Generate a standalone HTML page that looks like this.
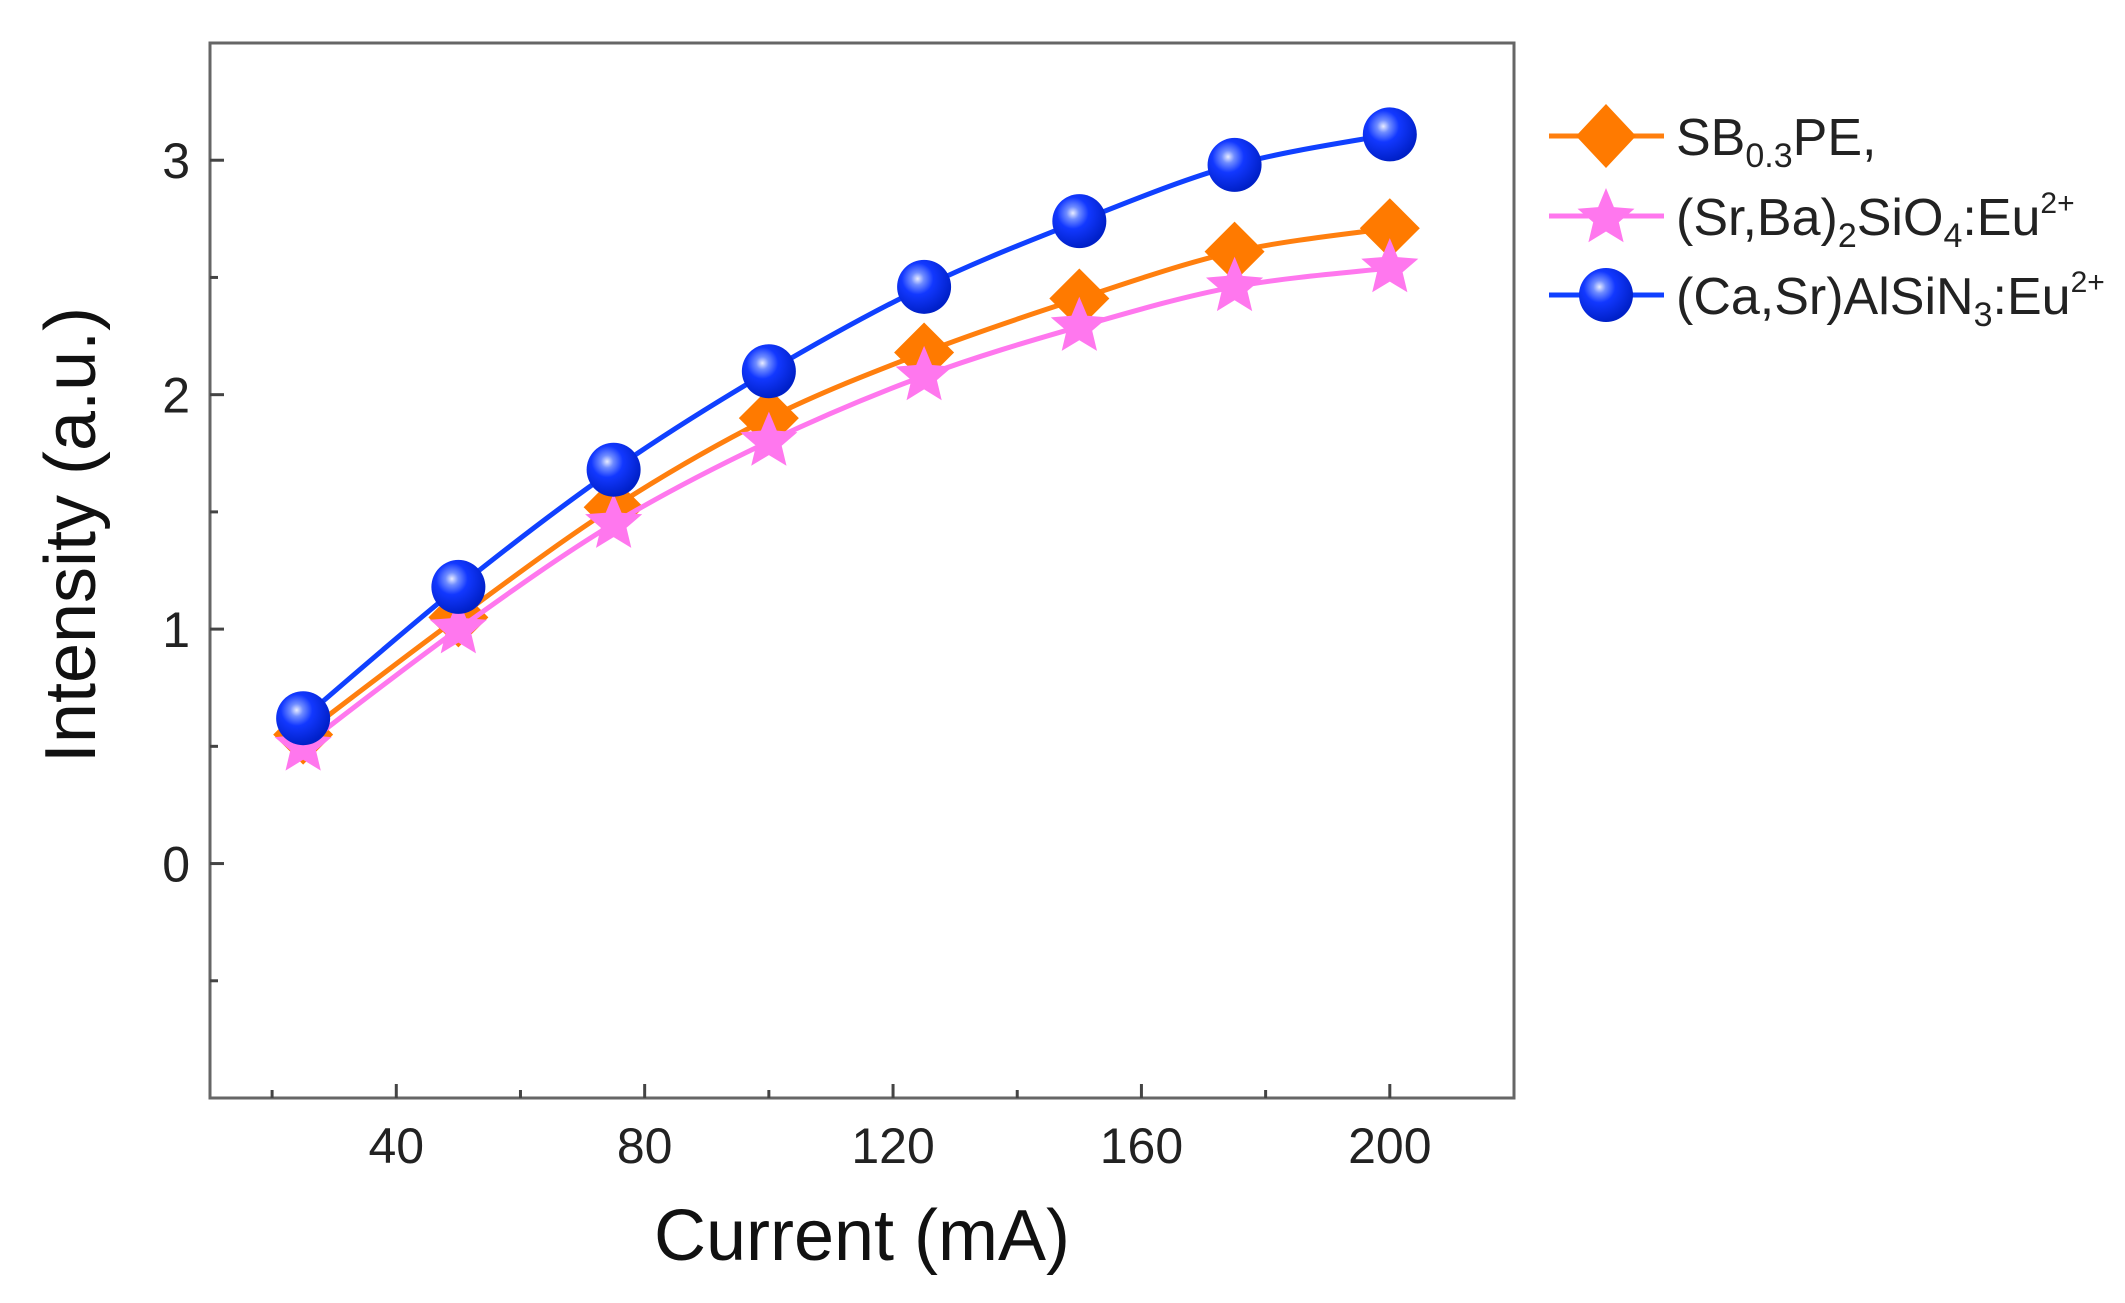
<!DOCTYPE html>
<html><head><meta charset="utf-8"><style>
html,body{margin:0;padding:0;background:#fff;}
svg{display:block;font-family:"Liberation Sans",Arial,sans-serif;}
</style></head><body>
<svg id="chart" width="2125" height="1303" viewBox="0 0 2125 1303">
<g id="axes"></g>
<g id="series"></g>
<g id="legend">
  <g>
    <line x1="1549" y1="136" x2="1664" y2="136" stroke="#ff7f0e" stroke-width="5"/>
    <polygon points="1606,104 1636,136 1606,168 1576,136" fill="#ff7a00"/>
    <text x="1676" y="155" font-size="52" fill="#222">SB<tspan font-size="34" dy="12">0.3</tspan><tspan dy="-12">PE,</tspan></text>
  </g>
  <g>
    <line x1="1549" y1="216" x2="1664" y2="216" stroke="#ff77ee" stroke-width="5"/>
    <polygon id="legstar" fill="#ff77ee"/>
    <text x="1676" y="235" font-size="52" fill="#222">(Sr,Ba)<tspan font-size="34" dy="12">2</tspan><tspan dy="-12">SiO</tspan><tspan font-size="34" dy="12">4</tspan><tspan dy="-12">:Eu</tspan><tspan font-size="30" dy="-22">2+</tspan></text>
  </g>
  <g>
    <line x1="1549" y1="295" x2="1664" y2="295" stroke="#1040ff" stroke-width="5"/>
    <circle cx="1606" cy="295" r="27" fill="url(#ball)"/>
    <text x="1676" y="314" font-size="52" fill="#222">(Ca,Sr)AlSiN<tspan font-size="34" dy="12">3</tspan><tspan dy="-12">:Eu</tspan><tspan font-size="30" dy="-22">2+</tspan></text>
  </g>
</g>
<defs>
<radialGradient id="ball" cx="0.38" cy="0.35" r="0.65">
  <stop offset="0" stop-color="#e8ecff"/>
  <stop offset="0.18" stop-color="#6f8cff"/>
  <stop offset="0.45" stop-color="#1238ff"/>
  <stop offset="1" stop-color="#0020c8"/>
</radialGradient>
</defs>
</svg>
<script>
const currents = [25, 50, 75, 100, 125, 150, 175, 200];
const sb03pe = [0.55, 1.05, 1.52, 1.90, 2.18, 2.41, 2.61, 2.71];
const srbaSiO4 = [0.50, 1.00, 1.45, 1.80, 2.08, 2.29, 2.46, 2.54];
const casrAlSiN3 = [0.62, 1.18, 1.68, 2.10, 2.46, 2.74, 2.98, 3.11];
const xTicks = [40, 80, 120, 160, 200];
const xMinor = [20, 60, 100, 140, 180];
const yTicks = [0, 1, 2, 3];
const yMinor = [-0.5, 0.5, 1.5, 2.5];

const L=210,R=1514,T=43,B=1098;
const xMin=10,xMax=220,yMin=-1,yMax=3.5;
const sx=v=>L+(v-xMin)/(xMax-xMin)*(R-L);
const sy=v=>B-(v-yMin)/(yMax-yMin)*(B-T);
const NS='http://www.w3.org/2000/svg';
function mk(tag,attrs,parent){const e=document.createElementNS(NS,tag);for(const k in attrs)e.setAttribute(k,attrs[k]);parent.appendChild(e);return e;}
const axes=document.getElementById('axes');
const frame=mk('rect',{x:L,y:T,width:R-L,height:B-T,fill:'none',stroke:'#666',"stroke-width":3},axes);


xTicks.forEach(v=>{
  const t=mk('line',{x1:sx(v),x2:sx(v),y1:B,y2:B-14,stroke:'#444',"stroke-width":3},axes);
  
  
  const l=mk('text',{x:sx(v),y:1163,"font-size":50,"text-anchor":"middle",fill:'#222'},axes);
  l.textContent=v;
  
  
});
xMinor.forEach(v=>{
  const t=mk('line',{x1:sx(v),x2:sx(v),y1:B,y2:B-8,stroke:'#444',"stroke-width":3},axes);
  
  
});
yTicks.forEach(v=>{
  const t=mk('line',{x1:L,x2:L+14,y1:sy(v),y2:sy(v),stroke:'#444',"stroke-width":3},axes);
  
  
  const l=mk('text',{x:190,y:sy(v)+18,"font-size":50,"text-anchor":"end",fill:'#222'},axes);
  l.textContent=v;
  
  
});
yMinor.forEach(v=>{
  const t=mk('line',{x1:L,x2:L+8,y1:sy(v),y2:sy(v),stroke:'#444',"stroke-width":3},axes);
  
  
});
const xt=mk('text',{x:862,y:1260,"font-size":72,"text-anchor":"middle",fill:'#111'},axes);
xt.textContent='Current (mA)';


const yt=mk('text',{x:0,y:0,"font-size":72,"text-anchor":"middle",fill:'#111',transform:'translate(95,535) rotate(-90)'},axes);
yt.textContent='Intensity (a.u.)';



function starPts(cx,cy,r){let p=[];for(let i=0;i<10;i++){const a=-Math.PI/2+i*Math.PI/5;const rr=i%2?r*0.45:r;p.push((cx+rr*Math.cos(a)).toFixed(1)+','+(cy+rr*Math.sin(a)).toFixed(1));}return p.join(' ');}
document.getElementById('legstar').setAttribute('points',starPts(1606,218,30));

const ser=document.getElementById('series');
function smoothPath(xs,ys){
  const P=xs.map((x,i)=>[sx(x),sy(ys[i])]);
  let d='M'+P[0][0]+','+P[0][1];
  for(let i=0;i<P.length-1;i++){
    const p0=P[Math.max(0,i-1)],p1=P[i],p2=P[i+1],p3=P[Math.min(P.length-1,i+2)];
    const c1=[p1[0]+(p2[0]-p0[0])/6,p1[1]+(p2[1]-p0[1])/6];
    const c2=[p2[0]-(p3[0]-p1[0])/6,p2[1]-(p3[1]-p1[1])/6];
    d+=' C'+c1+' '+c2+' '+p2;
  }
  return d;
}
function drawSeries(name,ys,color,kind){
  const g=mk('g',{},ser);
  
  
  const ln=mk('path',{d:smoothPath(currents,ys),fill:'none',stroke:color,"stroke-width":5},g);
  
  
  currents.forEach((x,i)=>{
    const cx=sx(x),cy=sy(ys[i]);let m;
    if(kind==='diamond') m=mk('polygon',{points:`${cx},${cy-30} ${cx+30},${cy} ${cx},${cy+30} ${cx-30},${cy}`,fill:'#ff7a00'},g);
    else if(kind==='star') m=mk('polygon',{points:starPts(cx,cy,30),fill:'#ff77ee'},g);
    else m=mk('circle',{cx:cx,cy:cy,r:27,fill:'url(#ball)'},g);
    
    
  });
}
drawSeries('sb03pe',sb03pe,'#ff7f0e','diamond');
drawSeries('srba-sio4',srbaSiO4,'#ff77ee','star');
drawSeries('casr-alsin3',casrAlSiN3,'#1040ff','ball');
</script>
</body></html>
